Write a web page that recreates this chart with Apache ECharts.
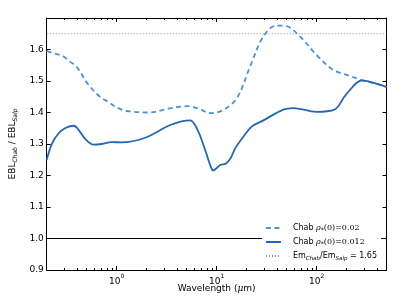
<!DOCTYPE html>
<html><head><meta charset="utf-8">
<script src="https://cdn.jsdelivr.net/npm/echarts@6/dist/echarts.min.js"></script>
<style>html,body{margin:0;padding:0;background:#fff}#c{width:407px;height:307px}</style>
</head><body><div id="c"></div>
<script>
// ---- data ----
const solidWavelength = [0.2, 0.227, 0.265, 0.308, 0.373, 0.417, 0.485, 0.588, 0.71, 0.89, 1.12, 1.9, 3.5, 5.44, 6.44, 7.48, 8.72, 9.27, 10.95, 12.3, 13.8, 15.4, 18.6, 22.6, 29.4, 46.4, 58.2, 99.3, 150.7, 197, 287, 380, 500];
const solidRatio      = [1.25, 1.303, 1.335, 1.351, 1.358, 1.345, 1.316, 1.298, 1.300, 1.306, 1.305, 1.319, 1.361, 1.375, 1.345, 1.292, 1.229, 1.216, 1.234, 1.237, 1.255, 1.287, 1.324, 1.356, 1.375, 1.409, 1.414, 1.402, 1.409, 1.457, 1.502, 1.493, 1.481];
const dashedWavelength = [0.2, 0.24, 0.29, 0.337, 0.393, 0.44, 0.485, 0.54, 0.61, 0.71, 0.84, 0.977, 1.18, 1.41, 2.06, 3.5, 5.13, 6.5, 8.7, 11.8, 16, 21.7, 29.4, 39.8, 50, 67.9, 99, 145, 212, 287, 380, 500];
const dashedRatio      = [1.595, 1.587, 1.579, 1.563, 1.547, 1.526, 1.502, 1.483, 1.464, 1.446, 1.432, 1.418, 1.407, 1.403, 1.400, 1.414, 1.420, 1.413, 1.398, 1.409, 1.446, 1.547, 1.642, 1.676, 1.674, 1.642, 1.584, 1.536, 1.517, 1.502, 1.493, 1.481];
const emRatio = 1.65;
const refRatio = 1.0;
const xRange = [0.2, 500];
const yRange = [0.9, 1.7];
const xMajorTicks = [1, 10, 100];
const xMinorTicks = [0.3,0.4,0.5,0.6,0.7,0.8,0.9, 2,3,4,5,6,7,8,9, 20,30,40,50,60,70,80,90, 200,300,400];
const yTickLabels = ['0.9','1.0','1.1','1.2','1.3','1.4','1.5','1.6'];

const zip = (a, b) => a.map((v, i) => [v, b[i]]);
const lg = v => Math.log10(v);
const SANS = 'DejaVu Sans';
const SERIF = 'DejaVu Serif';

const chart = echarts.init(document.getElementById('c'), null, {renderer: 'canvas'});

function tickAxis(pos, custom, len, showLine, labels) {
  return {
    type: 'value', position: pos, min: lg(xRange[0]), max: lg(xRange[1]),
    axisLine: {show: showLine, onZero: false, lineStyle: {color: '#000', width: 1}},
    axisTick: {show: true, inside: true, length: len, customValues: custom, lineStyle: {color: '#000', width: 1}},
    axisLabel: labels ? {
      show: true, customValues: custom, margin: 3, color: '#000',
      formatter: v => '{n|10}{sup|' + Math.round(v) + '}',
      rich: {
        n: {fontFamily: SANS, fontSize: 9, lineHeight: 13, verticalAlign: 'bottom', color: '#000'},
        sup: {fontFamily: SANS, fontSize: 6, lineHeight: 13, verticalAlign: 'top', color: '#000'}
      }
    } : {show: false},
    splitLine: {show: false}
  };
}

const xAxisArr = [
  // data axis (log scale)
  {type: 'log', logBase: 10, min: xRange[0], max: xRange[1], position: 'bottom',
   axisLine: {show: false, onZero: false}, axisTick: {show: false}, axisLabel: {show: false}, splitLine: {show: false},
   name: '{n|Wavelength (}{i|μ}{n|m)}', nameLocation: 'middle', nameGap: 14,
   nameTextStyle: {rich: {
     n: {fontFamily: SANS, fontSize: 9, color: '#000'},
     i: {fontFamily: SERIF, fontStyle: 'italic', fontSize: 9, color: '#000'}
   }}},
  tickAxis('bottom', xMajorTicks.map(lg), 4, true, true),
  tickAxis('top', xMajorTicks.map(lg), 4, true, false),
  tickAxis('bottom', xMinorTicks.map(lg), 2, false, false),
  tickAxis('top', xMinorTicks.map(lg), 2, false, false)
];

const yAxisArr = [
  {type: 'value', min: yRange[0], max: yRange[1], interval: 0.1, position: 'left',
   axisLine: {show: true, onZero: false, lineStyle: {color: '#000', width: 1}},
   axisTick: {inside: true, length: 4, lineStyle: {color: '#000'}},
   axisLabel: {margin: 3, color: '#000', fontFamily: SANS, fontSize: 9, showMaxLabel: false,
     formatter: v => { const i = Math.round((v - yRange[0]) * 10); return yTickLabels[i] || ''; }},
   splitLine: {show: false},
   name: '{n|EBL}{s|Chab}{n| / EBL}{s|Salp}', nameLocation: 'middle', nameGap: 19, nameRotate: 90,
   nameTextStyle: {rich: {
     n: {fontFamily: SANS, fontSize: 9, lineHeight: 12, verticalAlign: 'middle', color: '#000'},
     s: {fontFamily: SANS, fontStyle: 'italic', fontSize: 6, lineHeight: 6, verticalAlign: 'bottom', color: '#000'}
   }}},
  {type: 'value', min: yRange[0], max: yRange[1], interval: 0.1, position: 'right',
   axisLine: {show: true, onZero: false, lineStyle: {color: '#000', width: 1}},
   axisTick: {inside: true, length: 4, lineStyle: {color: '#000'}},
   axisLabel: {show: false}, splitLine: {show: false}}
];

const legendText = {
  d: '{p| }{t|Chab }{mi|ρ}{ms|*}{m|(0)=0.02}',
  s: '{p| }{t|Chab }{mi|ρ}{ms|*}{m|(0)=0.012}',
  e: '{p| }{t|Em}{si|Chab}{t|/Em}{si|Salp}{t| = 1.65}'
};

chart.setOption({
  animation: false,
  backgroundColor: '#fff',
  grid: {left: 44.5, right: 20.5, top: 18, bottom: 37},
  xAxis: xAxisArr,
  yAxis: yAxisArr,
  legend: {
    orient: 'vertical', right: 26, bottom: 42.5, itemWidth: 15, itemHeight: 8, itemGap: 4.5,
    padding: [3, 4, 3, 3], backgroundColor: '#fff', borderWidth: 0,
    itemStyle: {opacity: 0},
    data: ['d', 's', 'e'],
    formatter: n => legendText[n],
    textStyle: {color: '#000', fontSize: 8, rich: {
      p: {width: 7, fontSize: 8, lineHeight: 11},
      t: {fontFamily: SANS, fontSize: 8, lineHeight: 11, verticalAlign: 'middle', color: '#000'},
      m: {fontFamily: SERIF, fontSize: 8, lineHeight: 11, verticalAlign: 'middle', color: '#000'},
      mi: {fontFamily: SERIF, fontStyle: 'italic', fontSize: 8, lineHeight: 11, verticalAlign: 'middle', color: '#000'},
      ms: {fontFamily: SERIF, fontSize: 6, lineHeight: 6, verticalAlign: 'bottom', color: '#000'},
      si: {fontFamily: SANS, fontStyle: 'italic', fontSize: 5.5, lineHeight: 6, verticalAlign: 'bottom', color: '#000'}
    }}
  },
  series: [
    {name: 'e', type: 'line', xAxisIndex: 0, yAxisIndex: 0, symbol: 'none', silent: true,
     data: [[xRange[0], emRatio], [xRange[1], emRatio]],
     lineStyle: {color: '#8a8a8a', width: 1, type: [1, 2]}, z: 2},
    {name: 'ref', type: 'line', xAxisIndex: 0, yAxisIndex: 0, symbol: 'none', silent: true,
     data: [[xRange[0], refRatio], [xRange[1], refRatio]],
     lineStyle: {color: '#000', width: 1}, z: 2},
    {name: 'd', type: 'line', xAxisIndex: 0, yAxisIndex: 0, symbol: 'none', smooth: 0.35,
     data: zip(dashedWavelength, dashedRatio),
     lineStyle: {color: '#4b94d4', width: 1.8, type: [5, 3.5]}, itemStyle: {color: '#4b94d4'}, z: 3},
    {name: 's', type: 'line', xAxisIndex: 0, yAxisIndex: 0, symbol: 'none', smooth: 0.35,
     data: zip(solidWavelength, solidRatio),
     lineStyle: {color: '#2566b0', width: 1.8}, itemStyle: {color: '#2566b0'}, z: 4}
  ]
});
</script></body></html>
